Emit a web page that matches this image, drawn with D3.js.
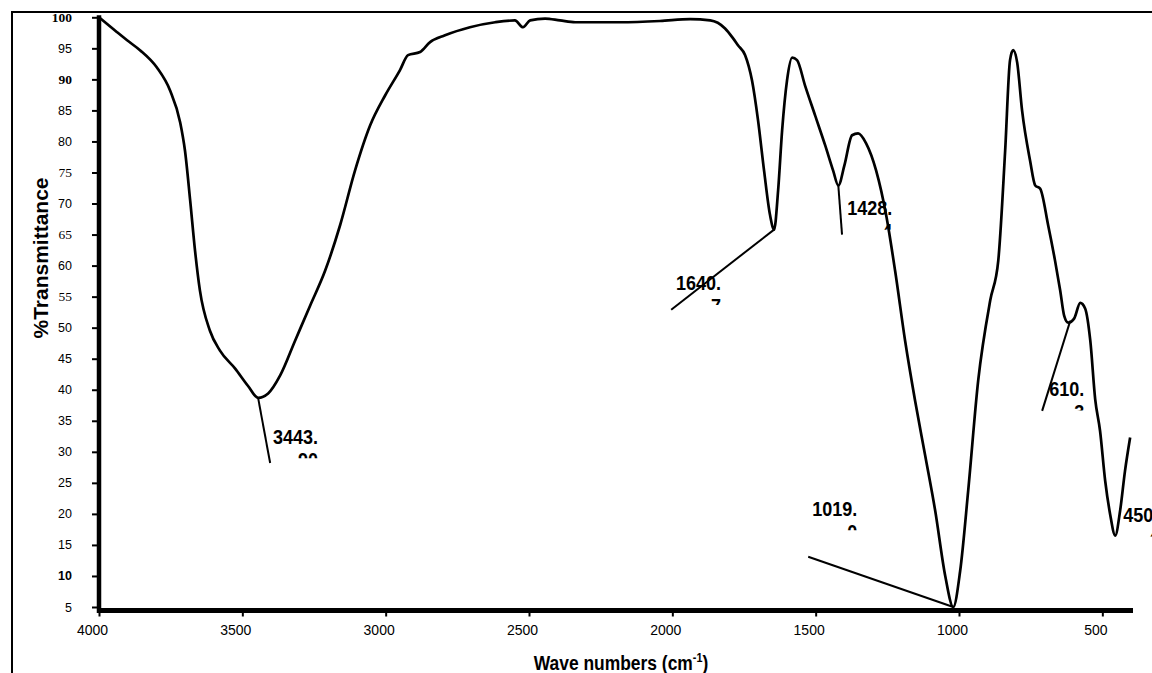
<html>
	<head>
		<style>
			body { margin: 0; background: #fff; }
			.spectrum { fill: none; stroke: #000; stroke-width: 2.7; stroke-linejoin: round; }
			.leader { stroke: #000; stroke-width: 2; }
			.peak { font-family: Arial, "Liberation Sans", sans-serif; font-weight: bold; font-size: 20px; fill: #000; }
			.axis text { font-family: Arial, "Liberation Sans", sans-serif; font-size: 12.5px; fill: #000; }
			.title { font-family: Arial, "Liberation Sans", sans-serif; font-weight: bold; fill: #000; }
		</style>
		<script src="https://d3js.org/d3.v7.min.js"></script>
	</head>
	<body>
		<svg width="1152" height="673"></svg>
		<script>
			// spectrum: wave number (cm-1) and % transmittance
			const waveNumbers = [4000, 3937, 3902, 3857, 3798, 3752, 3717, 3700, 3682, 3665, 3648, 3613, 3578, 3525, 3480, 3445,
				3410, 3368, 3316, 3264, 3211, 3159, 3107, 3054, 3002, 2950, 2922, 2880, 2845, 2793, 2706, 2618, 2549, 2521,
				2496, 2444, 2392, 2339, 2182, 2043, 1938, 1868, 1816, 1788, 1771, 1746, 1722, 1701, 1680, 1659, 1645, 1631,
				1617, 1600, 1582, 1565, 1537, 1502, 1467, 1439, 1421, 1400, 1373, 1352, 1324, 1289, 1254, 1223, 1188, 1153,
				1118, 1083, 1048, 1020, 996, 968, 933, 891, 863, 839, 822, 811, 797, 780, 752, 734, 717, 689, 665, 647, 633,
				619, 598, 577, 560, 542, 525, 508, 490, 473, 455, 438, 421, 403];
			const transmittance = [100, 97.6, 96.3, 94.7, 91.9, 88.2, 83.1, 78.5, 70.5, 62.4, 56.0, 49.5, 46.3, 43.4, 40.6, 38.7,
				39.4, 42.3, 47.9, 53.5, 59.2, 66.5, 75.3, 82.6, 87.4, 91.5, 93.9, 94.4, 96.0, 97.1, 98.4, 99.2, 99.5, 98.4,
				99.5, 99.8, 99.5, 99.2, 99.2, 99.4, 99.7, 99.5, 98.2, 96.6, 95.5, 93.9, 89.8, 83.4, 75.3, 68.1, 65.8, 72.1,
				81.8, 89.8, 93.5, 93.1, 89.0, 84.2, 79.4, 75.3, 72.9, 76.1, 81.0, 81.3, 79.7, 75.3, 68.1, 59.2, 47.9, 38.2,
				29.4, 20.5, 10.0, 5.0, 10.8, 23.7, 41.5, 54.4, 60.8, 78.5, 93.1, 94.7, 92.7, 85.0, 76.9, 72.9, 72.4, 66.5,
				60.8, 56.0, 51.9, 50.8, 51.5, 54.0, 53.1, 47.9, 38.5, 33.4, 25.3, 20.0, 16.5, 20.5, 26.9, 32.3];

			const xTicks = [4000, 3500, 3000, 2500, 2000, 1500, 1000, 500];
			const yTicks = [5, 10, 15, 20, 25, 30, 35, 40, 45, 50, 55, 60, 65, 70, 75, 80, 85, 90, 95, 100];

			// peak annotations: first line, clipped second line, leader line start/end, label anchor
			const peakText = ["3443.", "1640.", "1428.", "1019.", "610.", "450."];
			const peakTail = ["90", "7", "4", "0", "3", "4"];
			const leaderFrom = [[3445, 38.7], [1645, 65.8], [1421, 72.9], [1020, 5.0], [612, 51.1], null];
			const leaderTo = [[3403, 28.2], [2004, 52.9], [1408, 65.0], [1526, 13.1], [710, 36.6], null];
			const labelAt = [[3393, 31.3], [1987, 56.0], [1390, 68.1], [1512, 19.7], [685, 39.0], [427, 18.7]];

			// a few tick labels look like they were typed in another font
			const serifTicks = [100, 90, 75, 65, 55];
			const boldTicks = [100, 90, 10];

			const svg = d3.select("svg");
			const xs = d3.scaleLinear().domain([4000, 400]).range([99, 1131]);
			const ys = d3.scaleLinear().domain([5, 100]).range([607, 17.3]);

			// outer frame
			svg.append("rect")
				.attr("x", 12).attr("y", 12)
				.attr("width", 1300).attr("height", 800)
				.attr("fill", "none").attr("stroke", "#000").attr("stroke-width", 2);

			// y axis
			const yAxis = svg.append("g")
				.attr("class", "axis")
				.attr("transform", "translate(99,0)")
				.call(d3.axisLeft(ys).tickValues(yTicks).tickSize(7).tickSizeOuter(0).tickPadding(20));
			yAxis.select(".domain").attr("stroke-width", 4.5).attr("d", "M0," + (ys(100) - 2) + "V" + (ys(5) + 6));
			yAxis.selectAll(".tick line").attr("stroke-width", 2);
			yAxis.selectAll(".tick text")
				.style("font-family", (d) => serifTicks.includes(d) ? "'Liberation Serif', 'Times New Roman', serif" : null)
				.style("font-size", (d) => serifTicks.includes(d) ? "13.5px" : null)
				.style("font-weight", (d) => boldTicks.includes(d) ? "bold" : null);

			// x axis
			const xAxis = svg.append("g")
				.attr("class", "axis")
				.attr("transform", "translate(0," + (ys(5) + 3.5) + ")")
				.call(d3.axisBottom(xs).tickValues(xTicks).tickSize(6).tickSizeOuter(0).tickPadding(9).tickFormat(d3.format("d")));
			xAxis.select(".domain").attr("stroke-width", 5).attr("d", "M" + (xs(4000) - 2) + ",0H" + (xs(400) + 2));
			xAxis.selectAll(".tick line").attr("stroke-width", 2);
			xAxis.selectAll(".tick text").attr("dx", -7).style("font-size", "14px");

			// spectrum
			const points = waveNumbers.map((w, i) => [w, transmittance[i]]);
			const line = d3.line()
				.x((d) => xs(d[0]))
				.y((d) => ys(d[1]))
				.curve(d3.curveMonotoneX);
			svg.append("path").datum(points).attr("class", "spectrum").attr("d", line);

			// leader lines
			svg.selectAll(".leader")
				.data(leaderFrom.map((d, i) => [d, leaderTo[i]]).filter((d) => d[0]))
				.enter().append("line")
				.attr("class", "leader")
				.attr("x1", (d) => xs(d[0][0])).attr("y1", (d) => ys(d[0][1]))
				.attr("x2", (d) => xs(d[1][0])).attr("y2", (d) => ys(d[1][1]));

			// peak labels, text boxes too small so the second line is cut
			const defs = svg.append("defs");
			peakText.forEach(function (t, i) {
				const g = svg.append("g")
					.attr("class", "peak")
					.attr("transform", "translate(" + xs(labelAt[i][0]) + "," + ys(labelAt[i][1]) + ") scale(0.9,1)");
				const first = g.append("text").text(t);
				const wdt = first.node().getComputedTextLength();
				defs.append("clipPath").attr("id", "peakclip" + i)
					.append("rect").attr("x", -4).attr("y", -20).attr("width", wdt + 8).attr("height", 34.5);
				g.append("g").attr("clip-path", "url(#peakclip" + i + ")")
					.append("text")
					.attr("x", wdt).attr("y", 23)
					.attr("text-anchor", "end")
					.text(peakTail[i]);
			});

			// titles
			svg.append("text")
				.attr("class", "title")
				.attr("transform", "translate(48,258) rotate(-90)")
				.attr("text-anchor", "middle")
				.style("font-size", "21px")
				.text("%Transmittance");

			const xt = svg.append("text")
				.attr("class", "title")
				.attr("transform", "translate(621,670) scale(0.83,1)")
				.attr("text-anchor", "middle")
				.style("font-size", "21px")
				.text("Wave numbers (cm");
			xt.append("tspan").attr("dy", -8).style("font-size", "13px").text("-1");
			xt.append("tspan").attr("dy", 8).text(")");
		</script>
	</body>
</html>
